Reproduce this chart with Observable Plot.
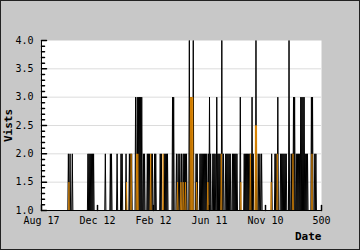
<!DOCTYPE html>
<html>
<head>
<meta charset="utf-8">
<script src="https://cdn.jsdelivr.net/npm/d3@7"></script>
<script src="https://cdn.jsdelivr.net/npm/@observablehq/plot@0.6"></script>
<style>
  html, body { margin: 0; padding: 0; background: #c8c8c8; overflow: hidden; }
  svg { display: block; outline: 1px solid #222; outline-offset: -1px; }
</style>
</head>
<body>
<div id="chart"></div>
<script>
// Daily visits (black series), one value per day index 0..500
const visits = [
  1,1,1,1,1,1,1,1,1,1, 1,1,1,1,1,1,1,1,1,1,
  1,1,1,1,1,1,1,1,1,1, 1,1,1,1,1,1,1,1,1,1,
  1,1,1,1,1,1,1,1,2,1, 1,2,1,1,1,2,1,1,1,1,
  1,1,1,1,1,1,1,1,1,1, 1,1,1,1,1,1,1,1,1,1,
  1,1,1,2,1,2,1,2,1,2, 1,2,1,2,1,1,1,1,1,1,
  1,1,1,1,1,1,1,1,1,1, 1,1,1,1,2,1,1,1,1,1,
  1,1,1,2,1,2,1,1,1,1, 1,1,1,1,1,2,1,1,1,1,
  1,1,2,1,2,1,1,1,1,1, 1,2,1,1,1,1,1,2,1,2,
  1,2,1,1,1,1,1,1,3,1, 1,3,1,3,1,3,1,3,1,3,
  1,1,2,1,2,1,1,1,1,2, 1,2,1,2,1,1,2,1,2,1,
  1,1,2,1,2,1,1,1,1,1, 1,1,2,1,2,1,1,1,1,2,
  1,2,1,2,1,2,1,1,1,1, 1,1,1,1,3,1,3,1,1,1,
  1,2,1,1,2,1,1,2,1,1, 2,1,1,2,1,2,1,2,1,2,
  1,1,1,1,4,1,3,1,3,1, 1,4,1,1,1,1,2,1,2,1,
  1,1,1,2,1,2,1,2,1,2, 1,2,1,2,1,2,1,1,2,1,
  3,1,2,1,1,1,2,1,2,1, 2,1,1,3,1,2,1,2,1,2,
  1,1,4,1,1,2,1,1,1,2, 1,2,1,2,1,2,1,2,1,1,
  1,2,1,2,1,2,1,2,1,2, 1,1,1,1,1,3,1,1,1,1,
  1,1,2,1,2,1,2,1,2,1, 2,1,2,1,2,1,3,1,2,1,
  1,1,1,4,1,1,1,2,1,1, 2,1,1,2,1,1,1,1,1,1,
  1,1,1,1,1,1,1,1,1,1, 1,2,1,1,1,1,1,2,1,2,
  1,1,3,1,1,1,1,2,1,2, 1,2,1,2,1,2,1,2,1,1,
  1,1,4,1,1,1,2,1,2,1, 3,1,3,1,1,2,1,2,1,2,
  1,2,1,3,1,3,1,3,1,3, 1,2,1,2,1,2,1,1,1,1,
  1,1,3,1,3,1,1,1,2,1, 2,1,1,1,1,1,1,1,1,1,
  1
];
// Second (orange) series, one value per day index 0..500
const uniques = [
  1,1,1,1,1,1,1,1,1,1, 1,1,1,1,1,1,1,1,1,1,
  1,1,1,1,1,1,1,1,1,1, 1,1,1,1,1,1,1,1,1,1,
  1,1,1,1,1,1,1,1,1,1.5, 1,1,1,1,1,1,1,1,1,1,
  1,1,1,1,1,1,1,1,1,1, 1,1,1,1,1,1,1,1,1,1,
  1,1,1,1,1,1,1,1,1,1, 1,1,1,1,1,1,1,1,1,1,
  1,1,1,1,1,1,1,1,1,1, 1,1,1,1,1,1,1,1,1,1,
  1,1,1,1,1,1,1,1,1,1, 1,1,1,1,1,1,1,1,1,1,
  1,1,1,1,1,1,1,1,1,1, 1,1,1.5,1,1,1,1,1,1,1,
  2,1,1,1,1,1,1,1,1,1, 2,1,2,1,1,1,1,1,1,1,
  1,1,1,1,1,1,1,1,1,1, 1,1,1,1,1,2,1,1,1,1,
  1,1,1,1,1,1,1,1,1,1, 1,1,1,1,1,1,1,2,1,1,
  1,1,1,1,1,1,1,1,1,1, 1,1,1,1,1,1,1,1,1,1,
  1,1,1,1.5,1,1,1,1,1,1.5, 1,1,1,1.5,1,1,1,1.5,1,1,
  1,1,1,1,1,1,3,1,3,1, 3,1,1,1,1,1,1,1.5,1,1,
  1,1,1,1,1,1,1,1,1,1, 1,1,1,1,1,1,1,1.5,1,1,
  1,1,1,1,1,1,1,1,1,1, 1,1,1,1,1,1,1,1,1,1,
  1,2,1,1,1,1,1,1,1,1, 1,1,1,1,1,1,1,1,1,1,
  1,1,1,1,1,1,1,1,1,1, 1,1,1,1,1,1,1.5,1,1,1,
  1,1,1,1,1,1,1,1,1,1, 1,1,1,2,1,1,1,1,1,1,
  1,1,2.5,1,2.5,1,1,1,1,1, 1,1,1,1,1,1,1,1,1,1,
  1,1,1,1,1,1,1,1,1,1, 1.5,1,1,1,1,1,1,1,1,1,
  1,2,1,1,1,1,1,1,1,1, 1,1,1,1,1,1,1,1,1,1,
  1,1,1,1,1,1,1,1,1,2, 1,1,1,1,1,1,1,1,1,1,
  1,1,1,1,1,1,1,1,1,1, 1,1,1,1,1,1,1,1,1,1,
  1,1,1,2,1,1,1,1,1,1, 1,1,1,1,1,1,1,1,1,1,
  1
];
const xDomain = [0, 500];
const yDomain = [1, 4];
const xTicks = [0, 100, 200, 300, 400, 500];
const xLabels = ["Aug 17", "Dec 12", "Feb 12", "Jun 11", "Nov 10", "500"];
const yMajor = [1, 1.5, 2, 2.5, 3, 3.5, 4];
const yMinor = [1.1,1.2,1.3,1.4,1.6,1.7,1.8,1.9,2.1,2.2,2.3,2.4,2.6,2.7,2.8,2.9,3.1,3.2,3.3,3.4,3.6,3.7,3.8,3.9];
const yLabel = "Vists";
const xLabel = "Date";

const days = d3.range(visits.length);
const tickShape = { draw(context, l) { context.moveTo(0, 0); context.lineTo(0, -l); } };
const font = "'DejaVu Sans Mono', monospace";

const chart = Plot.plot({
  width: 360,
  height: 250,
  marginLeft: 41,
  marginRight: 39,
  marginTop: 40,
  marginBottom: 40,
  x: { domain: xDomain, axis: null },
  y: { domain: yDomain, axis: null },
  style: { background: "#c8c8c8", fontFamily: font, fontSize: "10px", color: "black" },
  marks: [
    Plot.frame({ fill: "white", stroke: null }),
    Plot.gridY(yMajor.slice(1, -1), { stroke: "#dcdcdc", strokeOpacity: 1 }),
    Plot.line(days, { x: (d) => d, y: (d) => visits[d], stroke: "black", strokeWidth: 1 }),
    Plot.line(days, { x: (d) => d, y: (d) => uniques[d], stroke: "#f09000", strokeWidth: 1, strokeOpacity: 0.7 }),
    Plot.ruleX([xDomain[0]], { stroke: "black" }),
    Plot.ruleY([yDomain[0]], { stroke: "black" }),
    Plot.vector(yMajor, { x: () => xDomain[0], y: (d) => d, rotate: 90, length: 5, anchor: "start", shape: tickShape, stroke: "black" }),
    Plot.vector(yMinor, { x: () => xDomain[0], y: (d) => d, rotate: 90, length: 3, anchor: "start", shape: tickShape, stroke: "black" }),
    Plot.vector(xTicks, { x: (d) => d, y: () => yDomain[0], rotate: 0, length: 5, anchor: "start", shape: tickShape, stroke: "black" }),
    Plot.axisY(yMajor, { tickSize: 0, tickPadding: 8, tickFormat: (d) => d.toFixed(1), label: null, fontSize: 10 }),
    Plot.axisX(xTicks, { tickSize: 0, tickPadding: 6, tickFormat: (d, i) => xLabels[i], label: null, fontSize: 10 }),
    Plot.text([xLabel], { frameAnchor: "bottom-right", textAnchor: "end", lineAnchor: "bottom", dy: 29, fontWeight: "bold", fontSize: 11 }),
    Plot.text([yLabel], { frameAnchor: "left", rotate: -90, textAnchor: "middle", lineAnchor: "middle", dx: -33, fontWeight: "bold", fontSize: 11 })
  ]
});
document.getElementById("chart").appendChild(chart);
</script>
</body>
</html>
